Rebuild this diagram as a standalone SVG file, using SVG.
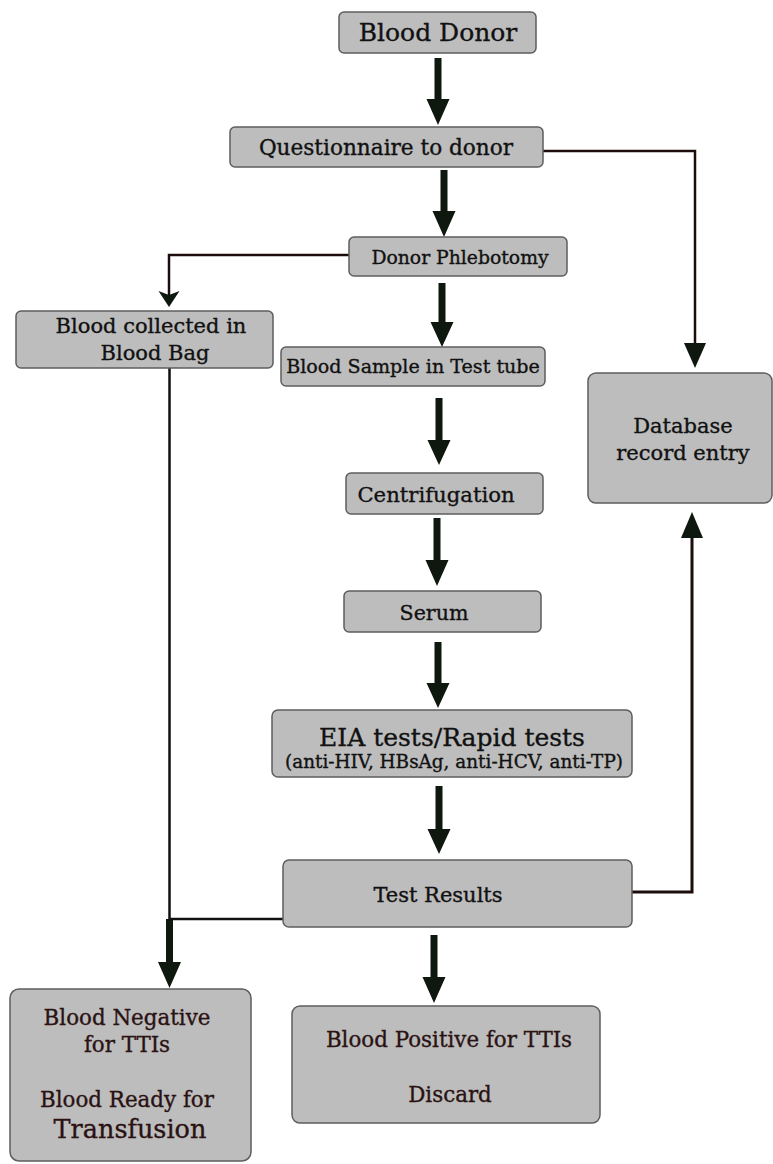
<svg xmlns="http://www.w3.org/2000/svg" width="773" height="1164" viewBox="0 0 773 1164">
<style>
.box{fill:#bdbdbd;stroke:#5e5e5e;stroke-width:1.5}
text{font-family:"DejaVu Serif","Liberation Serif",serif;fill:#111;stroke:#111;stroke-width:0.35;text-anchor:middle}
.br{fill:#2a1212;stroke:#2a1212}
.thick{fill:#0e180e}
.thin{fill:none;stroke:#1c0c0c;stroke-width:2.5}
.head{fill:#0e180e}
</style>
<rect width="773" height="1164" fill="#fff"/>
<g id="connectors">
<path class="thick" d="M434.5,58H441.5V99H449.5L438,125L426.5,99H434.5Z"/>
<path class="thick" d="M440.5,170H447.5V211H455.5L444,237L432.5,211H440.5Z"/>
<path class="thick" d="M438.5,283H445.5V322H453.5L442,347L430.5,322H438.5Z"/>
<path class="thick" d="M435.5,398H442.5V440H450.5L439,465L427.5,440H435.5Z"/>
<path class="thick" d="M433.5,518H440.5V560H448.5L437,586L425.5,560H433.5Z"/>
<path class="thick" d="M434.5,642H441.5V683H449.5L438,708L426.5,683H434.5Z"/>
<path class="thick" d="M435.5,786H442.5V829H450.5L439,854L427.5,829H435.5Z"/>
<path class="thick" d="M430.5,935H437.5V977H445.5L434,1003L422.5,977H430.5Z"/>
<path class="thick" d="M166,919H173V962H181L169.5,988L158,962H166Z"/>
<path class="thin" d="M543,151H695V345"/>
<path class="head" d="M684,343H706L695,368Z"/>
<path class="thin" d="M632,892H692V536" style="stroke-width:3"/>
<path class="head" d="M681,538H703L692,512Z"/>
<path class="thin" d="M349,255H169V296"/>
<path class="head" d="M158.5,291L169,295L179.5,291L169,307Z"/>
<path class="thin" d="M169.5,368V919H283" style="stroke:#111"/>
</g>
<g id="n-donor"><rect class="box" x="339" y="12" width="197" height="41" rx="5"/><text x="438" y="41" font-size="25">Blood Donor</text></g>
<g id="n-quest"><rect class="box" x="230" y="127" width="313" height="40" rx="5"/><text x="386" y="155" font-size="21.6">Questionnaire to donor</text></g>
<g id="n-phleb"><rect class="box" x="349" y="237" width="218" height="39" rx="5"/><text x="460" y="264" font-size="18.8">Donor Phlebotomy</text></g>
<g id="n-bag"><rect class="box" x="16" y="311" width="257" height="57" rx="5"/><text x="151" y="333" font-size="21">Blood collected in</text><text x="155" y="360" font-size="21">Blood Bag</text></g>
<g id="n-sample"><rect class="box" x="281" y="347" width="264" height="39" rx="5"/><text x="413" y="373" font-size="19.1">Blood Sample in Test tube</text></g>
<g id="n-db"><rect class="box" x="588" y="373" width="184" height="130" rx="8"/><text x="683" y="433" font-size="21">Database</text><text x="683" y="460" font-size="21">record entry</text></g>
<g id="n-centrif"><rect class="box" x="346" y="473" width="197" height="41" rx="5"/><text x="436" y="502" font-size="21.2">Centrifugation</text></g>
<g id="n-serum"><rect class="box" x="344" y="591" width="197" height="41" rx="5"/><text x="434" y="620" font-size="20.6">Serum</text></g>
<g id="n-eia"><rect class="box" x="272" y="710" width="360" height="67" rx="6"/><text x="452" y="746" font-size="25">EIA tests/Rapid tests</text><text x="454" y="768" font-size="18.4">(anti-HIV, HBsAg, anti-HCV, anti-TP)</text></g>
<g id="n-test"><rect class="box" x="283" y="860" width="349" height="67" rx="6"/><text x="438" y="902" font-size="21">Test Results</text></g>
<g id="n-neg"><rect class="box" x="10" y="989" width="241" height="172" rx="9"/><text class="br" x="127" y="1025" font-size="21.4">Blood Negative</text><text class="br" x="127" y="1052" font-size="21.4">for TTIs</text><text class="br" x="127" y="1107" font-size="21.4">Blood Ready for</text><text class="br" x="130" y="1138" font-size="25.5">Transfusion</text></g>
<g id="n-pos"><rect class="box" x="292" y="1006" width="308" height="117" rx="8"/><text class="br" x="449" y="1047" font-size="21.4">Blood Positive for TTIs</text><text class="br" x="450" y="1102" font-size="21.4">Discard</text></g>
</svg>
